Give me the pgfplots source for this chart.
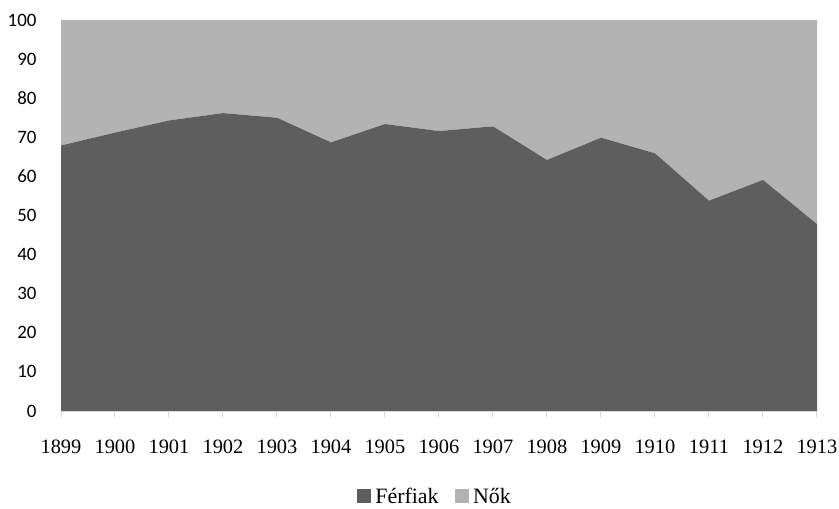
\documentclass[border=0pt]{standalone}
\usepackage{fontspec}
\setmainfont{Liberation Serif}
\newfontfamily\ylab{Carlito}
\usepackage{pgfplots}
\pgfplotsset{compat=1.18}
\definecolor{darkg}{HTML}{5E5E5E}
\definecolor{lightg}{HTML}{B3B3B3}
\definecolor{axg}{HTML}{D9D9D9}
\begin{document}
\begin{tikzpicture}
\begin{axis}[
  scale only axis,
  width=756bp, height=391bp,
  xmin=1899, xmax=1913, ymin=0, ymax=100,
  stack plots=y,
  separate axis lines,
  axis x line*=bottom, axis y line*=left,
  x axis line style={draw=axg, line width=1bp, -},
  y axis line style={draw=none},
  xtick={1899,...,1913},
  xticklabels={1899,1900,1901,1902,1903,1904,1905,1906,1907,1908,1909,1910,1911,1912,1913},
  ytick={0,10,...,100},
  yticklabels={0,10,20,30,40,50,60,70,80,90,100},
  tick align=outside,
  x tick style={draw=axg, line width=1bp},
  y tick style={draw=none},
  major tick length=6bp,
  xticklabel style={font=\fontsize{20.5}{22}\selectfont, yshift=-19bp},
  yticklabel style={font=\ylab\fontsize{19}{20}\selectfont, xshift=-15bp},
  axis on top,
  legend style={at={(0.4945,-0.218)}, anchor=center, draw=none, legend columns=2,
    inner sep=0pt, nodes={inner ysep=0pt},
    font=\fontsize{22}{24}\selectfont,
    /tikz/every odd column/.append style={column sep=2bp},
    /tikz/every even column/.append style={column sep=14bp}},
  legend image code/.code={\fill[#1] (0bp,-7bp) rectangle (14.5bp,7.5bp);},
]
\addplot[fill=darkg, draw=none] coordinates {
(1899,67.9)(1900,71.2)(1901,74.3)(1902,76.2)(1903,75.0)(1904,68.7)(1905,73.4)(1906,71.6)(1907,72.8)(1908,64.2)(1909,69.9)(1910,65.9)(1911,53.8)(1912,59.1)(1913,47.8)
} \closedcycle;
\addlegendentry{Férfiak}
\addplot[fill=lightg, draw=none] coordinates {
(1899,32.1)(1900,28.8)(1901,25.7)(1902,23.8)(1903,25.0)(1904,31.3)(1905,26.6)(1906,28.4)(1907,27.2)(1908,35.8)(1909,30.1)(1910,34.1)(1911,46.2)(1912,40.9)(1913,52.2)
} \closedcycle;
\addlegendentry{Nők}
\end{axis}
\pgfresetboundingbox
\path[use as bounding box] ([xshift=-61bp,yshift=-98bp]current axis.south west) rectangle ([xshift=22bp,yshift=20bp]current axis.north east);
\end{tikzpicture}
\end{document}
